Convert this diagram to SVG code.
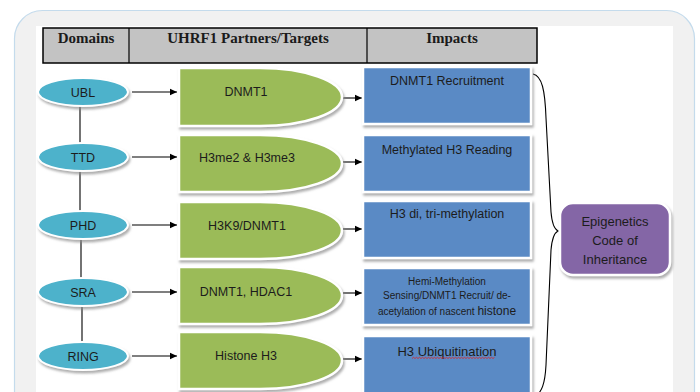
<svg xmlns="http://www.w3.org/2000/svg" width="700" height="392" viewBox="0 0 700 392">
<defs>
<filter id="sh" x="-10%" y="-10%" width="125%" height="130%">
<feDropShadow dx="1.5" dy="2.5" stdDeviation="1" flood-color="#8c8c8c" flood-opacity="0.7"/>
</filter>
<marker id="ah" markerWidth="8" markerHeight="8" refX="7" refY="4" orient="auto" markerUnits="userSpaceOnUse">
<path d="M0,0.8 L7,4 L0,7.2 Z" fill="#000"/>
</marker>
<style>
.ell{fill:#4eb2cb;stroke:#ffffff;stroke-width:2;filter:url(#sh)}
.grn{fill:#9bbb59;stroke:#ffffff;stroke-width:2.5;filter:url(#sh)}
.blu{fill:#5a8ac5;stroke:#ffffff;stroke-width:2.5;filter:url(#sh)}
.pur{fill:#8466a6;stroke:#ffffff;stroke-width:2.5;filter:url(#sh)}
.t{font-family:"Liberation Sans",Arial,sans-serif;font-size:12.5px;fill:#1c1c1c;text-anchor:middle}
.h{font-family:"Liberation Serif","Times New Roman",serif;font-size:15px;font-weight:bold;fill:#1a1a1a;text-anchor:middle}
.ln{stroke:#000;stroke-width:1.1;fill:none}
.ar{stroke:#000;stroke-width:1.1;fill:none;marker-end:url(#ah)}
</style>
</defs>
<rect x="14.5" y="10.5" width="680" height="420" rx="28" fill="#f1f1f1" stroke="#c4dbec" stroke-width="1.2"/>
<rect x="36" y="26" width="637" height="380" fill="#ffffff"/>
<g id="header">
<rect x="43" y="28" width="494" height="35" fill="#c3c3c3" stroke="#000" stroke-width="1.5"/>
<line x1="129" y1="28" x2="129" y2="63" stroke="#000" stroke-width="1.2"/>
<line x1="367" y1="28" x2="367" y2="63" stroke="#000" stroke-width="1.2"/>
<text class="h" x="86" y="43">Domains</text>
<text class="h" x="248" y="43">UHRF1 Partners/Targets</text>
<text class="h" x="452" y="43">Impacts</text>
</g>
<g id="connectors">
<line class="ln" x1="80" y1="106" x2="80" y2="143"/>
<line class="ln" x1="80" y1="171" x2="80" y2="211"/>
<line class="ln" x1="81" y1="239" x2="81" y2="278"/>
<line class="ln" x1="82" y1="306" x2="82" y2="342"/>
<line class="ar" x1="132" y1="92" x2="177" y2="92"/>
<line class="ar" x1="132" y1="157" x2="177" y2="157"/>
<line class="ar" x1="132" y1="225" x2="177" y2="225"/>
<line class="ar" x1="132" y1="292" x2="177" y2="292"/>
<line class="ar" x1="132" y1="356" x2="177" y2="356"/>
<line class="ar" x1="343" y1="98" x2="362" y2="98"/>
<line class="ar" x1="343" y1="162" x2="362" y2="162"/>
<line class="ar" x1="343" y1="229" x2="362" y2="229"/>
<line class="ar" x1="343" y1="293" x2="362" y2="293"/>
<line class="ar" x1="343" y1="359" x2="362" y2="359"/>
<path class="ln" d="M533,74 C542,76 545,90 546,118 L551,212 C552,224 554,229 558,231 C554,233 552,238 551,250 L546,365 C545,384 542,392 534,398"/>
</g>
<g id="ubl"><ellipse class="ell" cx="83" cy="92" rx="45" ry="14"/><text class="t" x="83" y="96.5">UBL</text></g>
<g id="ttd"><ellipse class="ell" cx="83" cy="157" rx="45" ry="14"/><text class="t" x="83" y="161.5">TTD</text></g>
<g id="phd"><ellipse class="ell" cx="83" cy="225" rx="45" ry="14"/><text class="t" x="83" y="229.5">PHD</text></g>
<g id="sra"><ellipse class="ell" cx="83" cy="292" rx="45" ry="14"/><text class="t" x="83" y="296.5">SRA</text></g>
<g id="ring"><ellipse class="ell" cx="83" cy="356" rx="45" ry="14"/><text class="t" x="83" y="360.5">RING</text></g>
<g id="dnmt1"><path class="grn" d="M179,68 H260 A82,29 0 0 1 260,126 H179 Z"/><text class="t" x="246" y="95.5">DNMT1</text></g>
<g id="h3me"><path class="grn" d="M179,135 H260 A82,28.5 0 0 1 260,192 H179 Z"/><text class="t" x="247" y="161.5">H3me2 &amp; H3me3</text></g>
<g id="h3k9"><path class="grn" d="M179,202 H260 A82,28.5 0 0 1 260,259 H179 Z"/><text class="t" x="247" y="229.5">H3K9/DNMT1</text></g>
<g id="hdac1"><path class="grn" d="M179,267 H260 A82,28.5 0 0 1 260,324 H179 Z"/><text class="t" x="246" y="296">DNMT1, HDAC1</text></g>
<g id="histone"><path class="grn" d="M179,332 H260 A82,28.5 0 0 1 260,389 H179 Z"/><text class="t" x="246" y="359.5">Histone H3</text></g>
<g id="imp1"><rect class="blu" x="363" y="67" width="168" height="57"/><text class="t" x="447" y="84.5">DNMT1 Recruitment</text></g>
<g id="imp2"><rect class="blu" x="363" y="135" width="168" height="57"/><text class="t" x="447" y="153.5">Methylated H3 Reading</text></g>
<g id="imp3"><rect class="blu" x="363" y="201" width="168" height="57"/><text class="t" x="447" y="217.5">H3 di, tri-methylation</text></g>
<g id="imp4"><rect class="blu" x="363" y="268" width="168" height="57"/>
<text class="t" x="447" y="284.5" style="font-size:10px">Hemi-Methylation</text>
<text class="t" x="447" y="299" style="font-size:10px">Sensing/DNMT1 Recruit/ de-</text>
<text class="t" x="447" y="314.5" style="font-size:10px">acetylation of nascent <tspan style="font-size:12px">histone</tspan></text></g>
<g id="imp5"><rect class="blu" x="363" y="336" width="168" height="62"/><text class="t" x="447" y="355.5" style="font-size:13px">H3 Ubiquitination</text>
<path d="M412,358.5 l1.5,-1.2 l1.5,1.2 l1.5,-1.2 l1.5,1.2 l1.5,-1.2 l1.5,1.2 l1.5,-1.2 l1.5,1.2 l1.5,-1.2 l1.5,1.2 l1.5,-1.2 l1.5,1.2 l1.5,-1.2 l1.5,1.2 l1.5,-1.2 l1.5,1.2 l1.5,-1.2 l1.5,1.2 l1.5,-1.2 l1.5,1.2 l1.5,-1.2 l1.5,1.2 l1.5,-1.2 l1.5,1.2 l1.5,-1.2 l1.5,1.2 l1.5,-1.2 l1.5,1.2 l1.5,-1.2 l1.5,1.2 l1.5,-1.2 l1.5,1.2 l1.5,-1.2 l1.5,1.2 l1.5,-1.2 l1.5,1.2 l1.5,-1.2 l1.5,1.2 l1.5,-1.2 l1.5,1.2 l1.5,-1.2 l1.5,1.2 l1.5,-1.2 l1.5,1.2 l1.5,-1.2 l1.5,1.2 l1.5,-1.2 l1.5,1.2 l1.5,-1.2 l1.5,1.2 l1.5,-1.2 l1.5,1.2 l1.5,-1.2 l1.5,1.2 l1.5,-1.2" fill="none" stroke="#e02020" stroke-width="0.8"/></g>
<g id="epigenetics"><rect class="pur" x="560" y="203" width="110" height="72" rx="13"/>
<text class="t" x="615" y="226" style="font-size:13px">Epigenetics</text>
<text class="t" x="615" y="245" style="font-size:13px">Code of</text>
<text class="t" x="615" y="264" style="font-size:13px">Inheritance</text></g>
</svg>
